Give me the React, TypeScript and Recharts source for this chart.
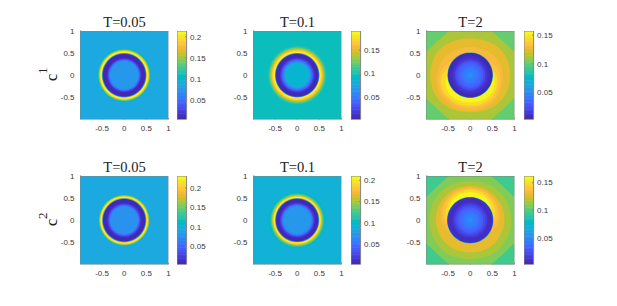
import React from "react";
import { ScatterChart, Scatter, XAxis, YAxis, ReferenceArea } from "recharts";

const PARULA: number[][] = [
  [.2422,.1504,.6603],[.2504,.1650,.7076],[.2578,.1818,.7511],[.2647,.1978,.7952],[.2706,.2147,.8364],[.2751,.2342,.8710],[.2783,.2559,.8991],[.2803,.2782,.9221],
  [.2813,.3006,.9414],[.2810,.3228,.9579],[.2795,.3447,.9717],[.2760,.3667,.9829],[.2699,.3892,.9906],[.2602,.4123,.9952],[.2440,.4358,.9988],[.2206,.4603,.9973],
  [.1963,.4847,.9892],[.1834,.5074,.9798],[.1786,.5289,.9682],[.1764,.5499,.9520],[.1687,.5703,.9359],[.1540,.5902,.9218],[.1460,.6091,.9079],[.1380,.6276,.8973],
  [.1248,.6459,.8883],[.1113,.6635,.8763],[.0952,.6798,.8598],[.0689,.6948,.8394],[.0297,.7082,.8163],[.0036,.7203,.7917],[.0067,.7312,.7660],[.0433,.7411,.7394],
  [.0964,.7500,.7120],[.1408,.7584,.6842],[.1717,.7670,.6554],[.1938,.7758,.6251],[.2161,.7843,.5923],[.2470,.7918,.5567],[.2906,.7973,.5188],[.3406,.8008,.4789],
  [.3909,.8029,.4354],[.4456,.8024,.3909],[.5044,.7993,.3480],[.5616,.7942,.3045],[.6174,.7876,.2612],[.6720,.7793,.2227],[.7242,.7698,.1910],[.7738,.7598,.1646],
  [.8203,.7498,.1535],[.8634,.7406,.1596],[.9035,.7330,.1774],[.9393,.7288,.2100],[.9728,.7298,.2394],[.9956,.7434,.2371],[.9970,.7659,.2199],[.9952,.7893,.2028],
  [.9892,.8136,.1885],[.9786,.8386,.1766],[.9676,.8639,.1643],[.9610,.8890,.1537],[.9597,.9135,.1423],[.9628,.9373,.1265],[.9691,.9606,.1064],[.9769,.9839,.0805],
];

const AXIS_TICKS_X = [-0.5, 0, 0.5, 1];
const AXIS_TICKS_Y = [-0.5, 0, 0.5, 1];

const titles = ["T=0.05", "T=0.1", "T=2", "T=0.05", "T=0.1", "T=2"];
const panelLefts = [80.3, 253.3, 426.3, 80.3, 253.3, 426.3];
const panelTops = [30.7, 30.7, 30.7, 175.7, 175.7, 175.7];
const barLefts = [177, 350.6, 524.3, 177, 350.6, 524.3];

const barRanges = [[0.003, 0.214], [0.003, 0.19], [0.0034, 0.157], [0.004, 0.231], [0.002, 0.21], [0.002, 0.162]];
const barTicks = [
  [0.05, 0.1, 0.15, 0.2],
  [0.05, 0.1, 0.15],
  [0.05, 0.1, 0.15],
  [0.05, 0.1, 0.15, 0.2],
  [0.05, 0.1, 0.15, 0.2],
  [0.05, 0.1, 0.15],
];

const backgrounds = [0.087, 0.095, 0.113, 0.095, 0.09, 0.109];

// radial profiles of the panels: disc radius -> value, outer to inner
const p1Radii = [.605,.595,.585,.575,.565,.555,.545,.53,.515,.505,.5,.49,.48,.395,.38,.365,.35,.335,.32];
const p1Values = [.095,.105,.12,.14,.165,.185,.2,.213,.205,.16,.09,.03,.007,.01,.02,.034,.05,.064,.073];
const p2Radii = [.66,.645,.63,.615,.6,.585,.57,.555,.54,.525,.515,.505,.5,.49,.48,.41,.39,.37,.35,.33,.31,.29,.27,.25];
const p2Values = [.1,.106,.115,.127,.14,.152,.162,.172,.18,.187,.188,.15,.08,.02,.007,.01,.016,.026,.038,.05,.062,.072,.08,.086];
const p4Radii = [.585,.575,.565,.555,.545,.53,.52,.51,.5,.49,.48,.40,.38,.36,.34,.32];
const p4Values = [.105,.12,.145,.175,.2,.225,.231,.2,.14,.07,.008,.011,.022,.038,.056,.076];
const p5Radii = [.64,.625,.61,.6,.585,.57,.555,.54,.525,.515,.505,.495,.485,.475,.41,.39,.37,.35,.33,.31];
const p5Values = [.095,.1,.107,.118,.13,.15,.17,.19,.205,.21,.16,.09,.025,.006,.009,.018,.032,.048,.062,.072];
const p3Radii = [.515,.505,.44,.39,.34,.29,.24,.18,.12,.06];
const p3Values = [.07,.006,.008,.014,.022,.03,.036,.042,.046,.05];
const p6Radii = [.525,.515,.44,.39,.34,.29,.24,.18,.12,.06];
const p6Values = [.07,.006,.008,.014,.022,.03,.036,.042,.046,.05];

// non-circular contours of the T=2 panels: value + radius in 16 directions, counter-clockwise from +x
const p3BandValues = [.125, .13, .135, .145, .155];
const p3BandRadii = [
  [.93,.93,.93,.87,.85,.87,.93,.93,.93,.93,.93,.88,.85,.88,.93,.93],
  [.76,.74,.7,.66,.66,.66,.7,.74,.78,.82,.82,.82,.82,.82,.82,.78],
  [.7,.62,.5,.45,.4,.45,.5,.62,.72,.76,.78,.76,.76,.76,.78,.72],
  [.62,.5,.4,.4,.4,.4,.4,.5,.68,.72,.72,.72,.7,.72,.72,.68],
  [.55,.4,.4,.4,.4,.4,.4,.4,.55,.62,.66,.65,.63,.65,.66,.62],
];
const p6BandValues = [.116, .128, .134, .139, .149, .16];
const p6BandRadii = [
  [.95,.95,.95,.92,.9,.92,.95,.95,.95,.95,.95,.92,.9,.92,.95,.95],
  [.8,.8,.8,.8,.8,.8,.8,.8,.8,.78,.78,.76,.74,.76,.78,.78],
  [.68,.72,.74,.76,.76,.76,.74,.72,.68,.6,.5,.45,.45,.45,.5,.6],
  [.62,.68,.72,.74,.74,.74,.72,.68,.62,.5,.4,.4,.4,.4,.4,.5],
  [.56,.62,.67,.7,.71,.7,.67,.62,.56,.4,.4,.4,.4,.4,.4,.4],
  [.4,.55,.62,.65,.65,.65,.62,.55,.4,.4,.4,.4,.4,.4,.4,.4],
];

// corner regions of the T=2 panels
const cornerTL = [[-1, 1], [-0.48, 1], [-0.75, 0.76], [-1, 0.52]];
const cornerTR = [[1, 1], [0.48, 1], [0.75, 0.76], [1, 0.52]];
const cornerBL = [[-1, -1], [-0.48, -1], [-0.75, -0.76], [-1, -0.52]];
const cornerBR = [[1, -1], [0.48, -1], [0.75, -0.76], [1, -0.52]];
const cornerValues: Record<number, number> = { 2: 0.101, 5: 0.096 };

const profiles: Record<number, [number[], number[]]> = {
  0: [p1Radii, p1Values],
  1: [p2Radii, p2Values],
  2: [p3Radii, p3Values],
  3: [p4Radii, p4Values],
  4: [p5Radii, p5Values],
  5: [p6Radii, p6Values],
};
const bands: Record<number, [number[], number[][]]> = {
  2: [p3BandValues, p3BandRadii],
  5: [p6BandValues, p6BandRadii],
};

const square = [[-1, -1], [1, -1], [1, 1], [-1, 1]];
const FRAME = "#858585";
const TICK_TEXT = { fontFamily: "Liberation Sans", fontSize: 8, fill: "#3a3a3a" };

const Empty = () => <g />;
const toPts = (a: number[][]) => a.map(([x, y]) => ({ x, y }));
const circle = (r: number) =>
  Array.from({ length: 64 }, (_, i) => ({ x: r * Math.cos((i * Math.PI) / 32), y: r * Math.sin((i * Math.PI) / 32) }));
const outline = (rs: number[]) =>
  rs.map((r, i) => ({ x: r * Math.cos((i * Math.PI) / 8), y: r * Math.sin((i * Math.PI) / 8) }));

const colorOf = (v: number, [lo, hi]: number[]) => {
  const i = Math.max(0, Math.min(63, Math.round(((v - lo) / (hi - lo)) * 63)));
  const [r, g, b] = PARULA[i];
  return `rgb(${Math.round(r * 255)},${Math.round(g * 255)},${Math.round(b * 255)})`;
};

const Fill = (key: string, data: { x: number; y: number }[], fill: string, closed = "linearClosed") => (
  <Scatter
    key={key}
    data={data}
    dataKey="y"
    shape={Empty}
    line={{ fill, stroke: "none" }}
    lineJointType={closed as any}
    isAnimationActive={false}
  />
);

const W = 88.4;
const YW = 24;
const XH = 15;
const TOP = 3;

function Panel({ idx }: { idx: number }) {
  const range = barRanges[idx];
  const [radii, values] = profiles[idx];
  const band = bands[idx];
  return (
    <div style={{ position: "absolute", left: panelLefts[idx] - YW, top: panelTops[idx] - TOP }}>
      <ScatterChart width={YW + W + 3} height={TOP + W + XH} margin={{ top: TOP, right: 3, bottom: 0, left: 0 }}>
        <XAxis type="number" dataKey="x" domain={[-1, 1]} ticks={AXIS_TICKS_X} height={XH} axisLine={false}
          tick={TICK_TEXT} tickSize={-1.5} tickMargin={7} stroke={FRAME} interval={0} allowDataOverflow />
        <YAxis type="number" dataKey="y" domain={[-1, 1]} ticks={AXIS_TICKS_Y} width={YW} axisLine={false}
          tick={TICK_TEXT} tickSize={-1.5} tickMargin={7} stroke={FRAME} interval={0} allowDataOverflow />
        {Fill("bg", toPts(square), colorOf(backgrounds[idx], range))}
        {cornerValues[idx] !== undefined &&
          [cornerTL, cornerTR, cornerBL, cornerBR].map((c, i) =>
            Fill(`c${i}`, toPts(c), colorOf(cornerValues[idx], range)))}
        {band && band[1].map((rs, i) => Fill(`b${i}`, outline(rs), colorOf(band[0][i], range), "basisClosed"))}
        {radii.map((r, i) => Fill(`r${i}`, circle(r), colorOf(values[i], range)))}
        <Scatter data={toPts(square)} dataKey="y" shape={Empty} line={{ fill: "none", stroke: FRAME, strokeWidth: 1 }}
          lineJointType="linearClosed" isAnimationActive={false} />
      </ScatterChart>
    </div>
  );
}

const BAR_W = 9.6;
const BAR_R = 34;

function ColorBar({ idx }: { idx: number }) {
  const [lo, hi] = barRanges[idx];
  const step = (hi - lo) / PARULA.length;
  return (
    <div style={{ position: "absolute", left: barLefts[idx], top: panelTops[idx] - TOP }}>
      <ScatterChart width={BAR_W + BAR_R} height={TOP + W + 3} margin={{ top: TOP, right: 0, bottom: 3, left: 0 }}>
        <XAxis type="number" dataKey="x" domain={[0, 1]} hide />
        <YAxis type="number" dataKey="y" orientation="right" domain={[lo, hi]} ticks={barTicks[idx]} width={BAR_R}
          axisLine={false} tick={TICK_TEXT} tickSize={-1.5} tickMargin={5} stroke={FRAME} interval={0}
          tickFormatter={(v: number) => String(v)} allowDataOverflow />
        {PARULA.map((_, i) => (
          <ReferenceArea key={i} x1={0} x2={1} y1={lo + i * step} y2={Math.min(hi, lo + (i + 1.4) * step)} ifOverflow="visible"
            fill={colorOf(lo + (i + 0.5) * step, [lo, hi])} fillOpacity={1} stroke="none" />
        ))}
        <Scatter data={[{ x: 0, y: lo }, { x: 1, y: lo }, { x: 1, y: hi }, { x: 0, y: hi }]} dataKey="y" shape={Empty}
          line={{ fill: "none", stroke: FRAME, strokeWidth: 1 }} lineJointType="linearClosed" isAnimationActive={false} />
      </ScatterChart>
    </div>
  );
}

const Title = ({ idx }: { idx: number }) => (
  <div style={{
    position: "absolute", left: panelLefts[idx], width: W, top: panelTops[idx] - 15.5, textAlign: "center",
    fontFamily: "Liberation Serif", fontSize: 14.5, lineHeight: "15px", color: "#222",
  }}>{titles[idx]}</div>
);

const YLabel = ({ top, sup }: { top: number; sup: string }) => (
  <div style={{ position: "absolute", left: 0, top: 0 }}>
    <svg width={70} height={306} style={{ position: "absolute", left: 0, top: 0 }}>
      <text transform={`translate(57,${top}) rotate(-90)`} fontFamily="Liberation Serif" fontSize={16.5} fill="#222">c</text>
      <text transform={`translate(47,${top - 7}) rotate(-90)`} fontFamily="Liberation Serif" fontSize={13} fill="#222">{sup}</text>
    </svg>
  </div>
);

export default function App() {
  const ids = [0, 1, 2, 3, 4, 5];
  return (
    <div style={{ position: "absolute", left: 0, top: 0, width: 617, height: 306, background: "#fff", overflow: "hidden" }}>
      <YLabel top={81} sup="1" />
      <YLabel top={226} sup="2" />
      {ids.map((i) => <Title key={i} idx={i} />)}
      {ids.map((i) => <Panel key={i} idx={i} />)}
      {ids.map((i) => <ColorBar key={i} idx={i} />)}
    </div>
  );
}
